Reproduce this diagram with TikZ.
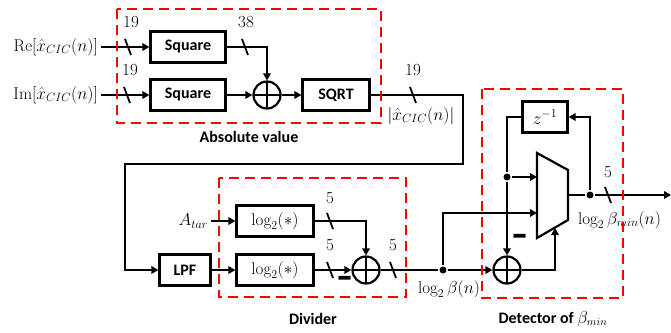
\documentclass[tikz,border=0pt]{standalone}
\usepackage{amsmath}
\usepackage{fontspec}
\newfontfamily\blkfont{Carlito}
\usepackage{tikz}
\usetikzlibrary{arrows.meta,positioning,shapes,calc}
\definecolor{grpred}{HTML}{FF0000}

\begin{document}
\begin{tikzpicture}[x=1pt,y=-1pt,line width=2.2pt,font=\fontsize{17}{20}\selectfont,
  blk/.style={draw,line width=2.2pt,minimum height=31pt,inner sep=2pt},
  bld/.style={font=\fontsize{16}{19}\selectfont\blkfont\bfseries},
  sum/.style={draw,circle,minimum size=27pt,inner sep=0pt,
    path picture={\draw[line width=2.2pt] (path picture bounding box.north) -- (path picture bounding box.south)
      (path picture bounding box.west) -- (path picture bounding box.east);}},
  dot/.style={circle,fill,inner sep=0pt,minimum size=7pt},
  neg/.style={font=\fontsize{18}{18}\selectfont\blkfont\bfseries,inner sep=0pt},
  grp/.style={draw=grpred,line width=2.5pt,dash pattern=on 10pt off 6pt},
  arr/.style={-{Triangle[length=7pt,width=7.5pt]}},
  bus/.pic={\draw[line width=1.8pt] (-3,-8) -- (3,8);}]
\useasboundingbox (0,0) rectangle (671,332);
% absolute value
\node[anchor=east,inner sep=2pt] (re) at (101,47) {$\mathrm{Re}[\hat{x}_{CIC}(n)]$};
\node[anchor=east,inner sep=2pt] (im) at (101,95) {$\mathrm{Im}[\hat{x}_{CIC}(n)]$};
\node[blk,bld,minimum width=75pt] (sq1) at (188,47) {Square};
\node[blk,bld,minimum width=75pt] (sq2) at (188,95) {Square};
\node[sum] (s1) at (267,95) {};
\node[blk,bld,minimum width=67pt] (sqrt) at (336,95) {SQRT};
\node[bld] (t-abs) at (249,137) {Absolute value};
\draw[arr] (re) -- (sq1);
\draw[arr] (im) -- (sq2);
\draw[arr] (sq1) -| (s1);
\draw[arr] (sq2) -- (s1);
\draw[arr] (s1) -- (sqrt);
\pic at (128,47) {bus}; \node (w1) at (131,22) {19};
\pic at (127,95) {bus}; \node (w2) at (130,70) {19};
\pic at (245,47) {bus}; \node (w3) at (246,22) {38};
% divider
\node[blk,bld,minimum width=51pt] (lpf) at (185,270) {LPF};
\node[blk,minimum width=77pt] (lg1) at (275,221) {$\log_2(*)$};
\node[blk,minimum width=77pt] (lg2) at (275,270) {$\log_2(*)$};
\node[anchor=east,inner sep=2pt] (atar) at (211,221) {$A_{tar}$};
\node[sum] (s2) at (366,270) {};
\node[neg] (m1) at (345,283) {\scalebox{1.9}[2.4]{–}};
\node[bld] (t-div) at (313,319) {Divider};
\coordinate (c1) at (463,95);
\coordinate (c2) at (463,164);
\coordinate (c3) at (125,164);
\draw[arr] (sqrt) -- (c1) -- (c2) -- (c3) |- (lpf);
\pic at (413,95) {bus}; \node (w4) at (413,70) {19};
\node (t-mag) at (421,116) {$|\hat{x}_{CIC}(n)|$};
\draw[arr] (atar) -- (lg1);
\draw[arr] (lpf) -- (lg2);
\draw[arr] (lg1) -| (s2);
\draw[arr] (lg2) -- (s2);
\pic at (330,221) {bus}; \node (w5) at (330,198) {5};
\pic at (330,270) {bus}; \node (w6) at (330,245) {5};
% detector
\node[dot] (d1) at (443,270) {};
\node[sum] (s3) at (507,270) {};
\node[blk,minimum width=45pt] (zinv) at (545,117) {$z^{-1}$};
\draw (537,153) -- (568,170) -- (568,220) -- (537,238) -- cycle;
\coordinate (mux-a) at (537,177);
\coordinate (mux-b) at (537,213);
\coordinate (mux-s) at (555,228);
\coordinate (mux-o) at (568,195);
\coordinate (out) at (671,195);
\node[dot] (d2) at (507,177) {};
\node[dot] (d3) at (590,195) {};
\node[neg] (m2) at (520,241) {\scalebox{1.9}[2.4]{–}};
\node (t-beta) at (449,289) {$\log_2\beta(n)$};
\node[anchor=west,inner sep=1pt] (t-bmin) at (576,220) {$\log_2\beta_{min}(n)$};
\node[bld] (t-det) at (553,319) {Detector of $\beta_{min}$};
\draw (s2) -- (d1);
\pic at (393,270) {bus}; \node (w7) at (393,245) {5};
\draw[arr] (d1) -- (s3);
\draw[arr] (d1) |- (mux-b);
\draw (zinv) -| (d2);
\draw[arr] (d2) -- (mux-a);
\draw[arr] (d2) -- (s3);
\draw[arr] (s3) -| (mux-s);
\draw (mux-o) -- (d3);
\draw[arr] (d3) -- (out);
\draw[arr] (d3) |- (zinv);
\pic at (608,195) {bus}; \node (w8) at (608,172) {5};
% groups
\draw[grp] (117,9) rectangle (381,123);
\draw[grp] (219,178) rectangle (406,297);
\draw[grp] (482,89) rectangle (623,298);
\end{tikzpicture}
\end{document}
